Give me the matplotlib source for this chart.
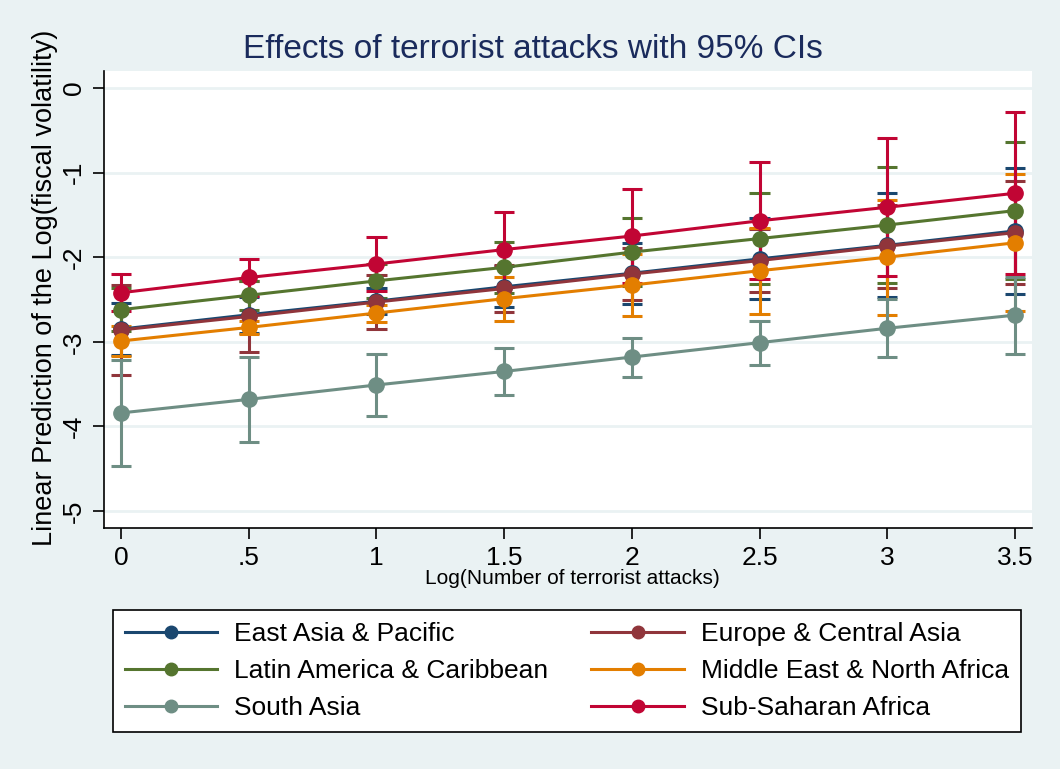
import matplotlib
matplotlib.use("Agg")
import matplotlib.pyplot as plt
from matplotlib.lines import Line2D
from matplotlib import font_manager

plt.rcParams['axes.unicode_minus'] = False

# ---- data ----
x_vals = [0, 0.5, 1, 1.5, 2, 2.5, 3, 3.5]
x_ticklabels = ["0", ".5", "1", "1.5", "2", "2.5", "3", "3.5"]
y_ticks = [0, -1, -2, -3, -4, -5]
y_ticklabels = ["0", "-1", "-2", "-3", "-4", "-5"]

regions = ["East Asia & Pacific", "Europe & Central Asia", "Latin America & Caribbean",
           "Middle East & North Africa", "South Asia", "Sub-Saharan Africa"]

east_asia = [-2.85, -2.68, -2.52, -2.35, -2.19, -2.02, -1.86, -1.69]
east_asia_hw = [0.305, 0.21, 0.15, 0.24, 0.36, 0.48, 0.615, 0.74]

europe = [-2.86, -2.70, -2.53, -2.37, -2.20, -2.04, -1.87, -1.71]
europe_hw = [0.53, 0.42, 0.32, 0.28, 0.31, 0.375, 0.49, 0.61]

latin = [-2.62, -2.45, -2.28, -2.12, -1.94, -1.78, -1.62, -1.45]
latin_hw = [0.25, 0.17, 0.20, 0.30, 0.40, 0.535, 0.68, 0.81]

mena = [-2.99, -2.83, -2.66, -2.49, -2.33, -2.16, -2.00, -1.83]
mena_hw = [0.18, 0.08, 0.10, 0.26, 0.37, 0.51, 0.68, 0.81]

south_asia = [-3.84, -3.68, -3.51, -3.35, -3.18, -3.01, -2.84, -2.685]
south_asia_hw = [0.625, 0.50, 0.37, 0.28, 0.23, 0.26, 0.34, 0.455]

ssa = [-2.42, -2.24, -2.08, -1.91, -1.75, -1.57, -1.41, -1.245]
ssa_hw = [0.22, 0.22, 0.32, 0.44, 0.56, 0.69, 0.815, 0.955]

series = [east_asia, europe, latin, mena, south_asia, ssa]
halfwidths = [east_asia_hw, europe_hw, latin_hw, mena_hw, south_asia_hw, ssa_hw]
colors = ["#1a476f", "#90353b", "#55752f", "#e37e00", "#6e8e84", "#c10534"]

title = "Effects of terrorist attacks with 95% CIs"
xlabel = "Log(Number of terrorist attacks)"
ylabel = "Linear Prediction of the Log(fiscal volatility)"

# ---- fonts ----
names = {f.name for f in font_manager.fontManager.ttflist}
narrow = "Liberation Sans Narrow" if "Liberation Sans Narrow" in names else "Liberation Sans"
base = "Liberation Sans"

BG = "#eaf2f3"
W, H = 1060, 769
fig = plt.figure(figsize=(W / 100, H / 100), dpi=100, facecolor=BG)

L, R, T, B = 104, 1032, 71, 528
ax = fig.add_axes([L / W, 1 - B / H, (R - L) / W, (B - T) / H])
ax.set_facecolor("white")

cap = 0.04
for s, hw, c in zip(series, halfwidths, colors):
    lo = [v - h for v, h in zip(s, hw)]
    hi = [v + h for v, h in zip(s, hw)]
    ax.vlines(x_vals, lo, hi, color=c, lw=2.2, zorder=2)
    ax.hlines(lo, [x - cap for x in x_vals], [x + cap for x in x_vals], color=c, lw=2.2, zorder=2)
    ax.hlines(hi, [x - cap for x in x_vals], [x + cap for x in x_vals], color=c, lw=2.2, zorder=2)

for s, c in zip(series, colors):
    ax.plot(x_vals, s, color=c, lw=2.2, marker="o", ms=11, mec=c, mfc=c, zorder=3)

ax.set_xlim(-0.067, 3.567)
ax.set_ylim(-5.2, 0.2)
ax.set_xticks(x_vals)
ax.set_xticklabels(x_ticklabels, fontfamily=base, fontsize=19)
ax.set_yticks(y_ticks)
ax.set_yticklabels(y_ticklabels, fontfamily=base, fontsize=19, rotation=90, va="center")
ax.tick_params(axis="both", direction="out", length=8, width=1.2, color="black", pad=5)

for y in y_ticks:
    ax.axhline(y, color=BG, lw=2, zorder=1)

for sp in ["top", "right"]:
    ax.spines[sp].set_visible(False)
for sp in ["left", "bottom"]:
    ax.spines[sp].set_color("black")
    ax.spines[sp].set_linewidth(1.2)

fig.text(533 / W, 1 - 50 / H, title, ha="center", va="center", fontfamily=narrow,
         fontsize=24, color="#1a2b5c")
fig.text(45 / W, 1 - 288 / H, ylabel, ha="center", va="center", rotation=90,
         fontfamily=base, fontsize=19.5, color="black")
fig.text(572 / W, 1 - 579 / H, xlabel, ha="center", va="center",
         fontfamily=base, fontsize=15, color="black")

# legend ordered for column-major fill
order = [0, 2, 4, 1, 3, 5]
handles = [Line2D([], [], color=colors[i], lw=2.2, marker="o", ms=9) for i in order]
labels = [regions[i] for i in order]
lx0, lx1, ly0, ly1 = 113, 1021, 607, 735
leg = fig.legend(handles, labels, ncol=2, loc="center",
                 bbox_to_anchor=(lx0 / W, 1 - ly1 / H, (lx1 - lx0) / W, (ly1 - ly0) / H),
                 mode="expand", frameon=True, fancybox=False, edgecolor="black",
                 facecolor="white", framealpha=1, handlelength=3.5, handletextpad=0.65,
                 labelspacing=0.5, borderpad=0.45, prop={"family": narrow, "size": 19},
                 borderaxespad=0)
leg.get_frame().set_linewidth(1.2)

fig.savefig("out.png", dpi=100, facecolor=BG)
